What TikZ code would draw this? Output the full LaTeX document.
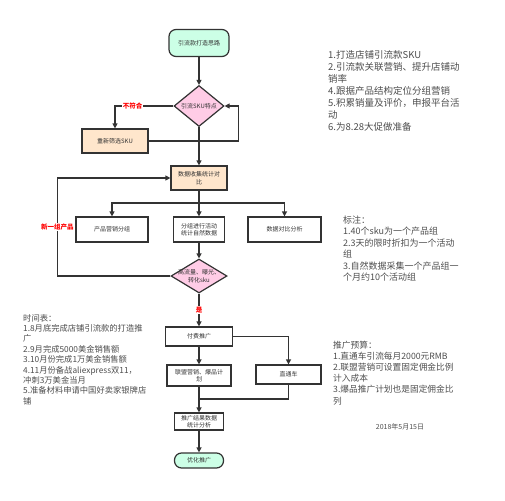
\documentclass[tikz,border=0pt]{standalone}
\usepackage{fontspec}
\setmainfont{Noto Sans CJK SC}
\usetikzlibrary{arrows.meta,shapes.geometric}
\usepackage{xcolor}
\definecolor{mint}{HTML}{CCFFE6}
\definecolor{pinkfill}{HTML}{FFCCE6}
\definecolor{peach}{HTML}{FFE6CC}
\definecolor{dark}{HTML}{333333}
\definecolor{notegray}{HTML}{4D4D4D}
\newcommand{\boxfont}{\fontsize{6}{7.5}\selectfont}
\tikzset{
  box/.style={draw=dark, line width=1.2pt, align=center, fill=white, inner sep=1pt, font=\boxfont, text=dark},
  peachbox/.style={box, fill=peach},
  termbox/.style={box, fill=mint, rounded corners=7pt},
  decision/.style={diamond, draw=dark, line width=1.2pt, fill=pinkfill, inner sep=0pt},
  decisiontext/.style={font=\boxfont, text=dark, align=center, inner sep=0pt},
  arrow/.style={-{Triangle[length=5pt,width=5pt]}, line width=1.2pt, draw=dark},
  line/.style={line width=1.2pt, draw=dark},
  redlabel/.style={font=\fontsize{6.5}{7}\selectfont\bfseries, text=red, fill=white, inner sep=1pt},
  note/.style={anchor=north west, align=left, inner sep=0pt, text=notegray}
}

\begin{document}
\begin{tikzpicture}[x=1pt, y=-1pt]
  \useasboundingbox (0,0) rectangle (505,500);
  % main flow
  \node[termbox, minimum width=60, minimum height=27] (start) at (199,43) {引流款打造思路};
  \node[decision, minimum width=50, minimum height=41, label={[decisiontext]center:引流SKU特点}] (feature) at (199,106) {};
  \node[peachbox, minimum width=66, minimum height=24] (reselect) at (115,141) {重新筛选SKU};
  \node[peachbox, minimum width=56, minimum height=24] (collect) at (199,178) {数据收集统计对\\比};
  \node[box, minimum width=72, minimum height=25] (market) at (112,229.5) {产品营销分组};
  \node[box, minimum width=51, minimum height=25] (natural) at (199,229.5) {分组进行活动\\统计自然数据};
  \node[box, minimum width=73, minimum height=25] (compare) at (284.5,229.5) {数据对比分析};
  \node[decision, minimum width=56, minimum height=34, label={[decisiontext]center:高流量、曝光、\\转化sku}] (hot) at (199,276) {};
  \node[box, minimum width=67, minimum height=19] (paid) at (199,336.5) {付费推广};
  \node[box, minimum width=64, minimum height=21] (alliance) at (199,375.5) {联盟营销、爆品计\\划};
  \node[box, minimum width=65, minimum height=19] (train) at (288.5,374.5) {直通车};
  \node[box, minimum width=49, minimum height=17] (result) at (199,421.5) {推广结果数据\\统计分析};
  \node[termbox, minimum width=49, minimum height=15] (optimize) at (199,460.5) {优化推广};

  % connectors
  \draw[arrow] (start) -- (feature);
  \draw[arrow] (feature.west) -| node[redlabel, pos=0.35] {不符合} (reselect.north);
  \draw[arrow] (reselect.east) -- ++(90,0) |- (feature.east);
  \draw[arrow] (feature) -- (collect);
  \coordinate (split) at (199,203);
  \draw[line] (collect) -- (split);
  \draw[arrow] (split) -| (market);
  \draw[arrow] (split) -- (natural);
  \draw[arrow] (split) -| (compare);
  \draw[arrow] (natural) -- (hot);
  \draw[arrow] (hot.west) -- ++(-113,0) |- node[redlabel, pos=0.25] {新一组产品} (collect.west);
  \draw[arrow] (hot) -- node[redlabel] {是} (paid);
  \draw[arrow] (paid) -- (alliance);
  \draw[arrow] (paid.east) -| (train);
  \coordinate (merge) at (199,399);
  \draw[line] (train) |- (merge);
  \draw[arrow] (alliance) -- (result);
  \draw[arrow] (result) -- (optimize);

  % notes
  \node[note, font=\fontsize{9.5}{12}\selectfont] (goals) at (328,50) {1.打造店铺引流款SKU\\2.引流款关联营销、提升店铺动\\销率\\4.跟据产品结构定位分组营销\\5.积累销量及评价，申报平台活\\动\\6.为8.28大促做准备};
  \node[note, font=\fontsize{9}{11.5}\selectfont] (remark) at (343,215.5) {标注：\\1.40个sku为一个产品组\\2.3天的限时折扣为一个活动\\组\\3.自然数据采集一个产品组一\\个月约10个活动组};
  \node[note, font=\fontsize{8.3}{10.4}\selectfont] (schedule) at (23,314) {时间表：\\1.8月底完成店铺引流款的打造推\\广\\2.9月完成5000美金销售额\\3.10月份完成1万美金销售额\\4.11月份备战aliexpress双11，\\冲刺3万美金当月\\5.准备材料申请中国好卖家银牌店\\铺};
  \node[note, font=\fontsize{8.7}{11.2}\selectfont] (budget) at (333,340.5) {推广预算：\\1.直通车引流每月2000元RMB\\2.联盟营销可设置固定佣金比例\\计入成本\\3.爆品推广计划也是固定佣金比\\列};
  \node[font=\fontsize{7}{8}\selectfont, text=notegray] (date) at (400,427) {2018年5月15日};
\end{tikzpicture}
\end{document}
